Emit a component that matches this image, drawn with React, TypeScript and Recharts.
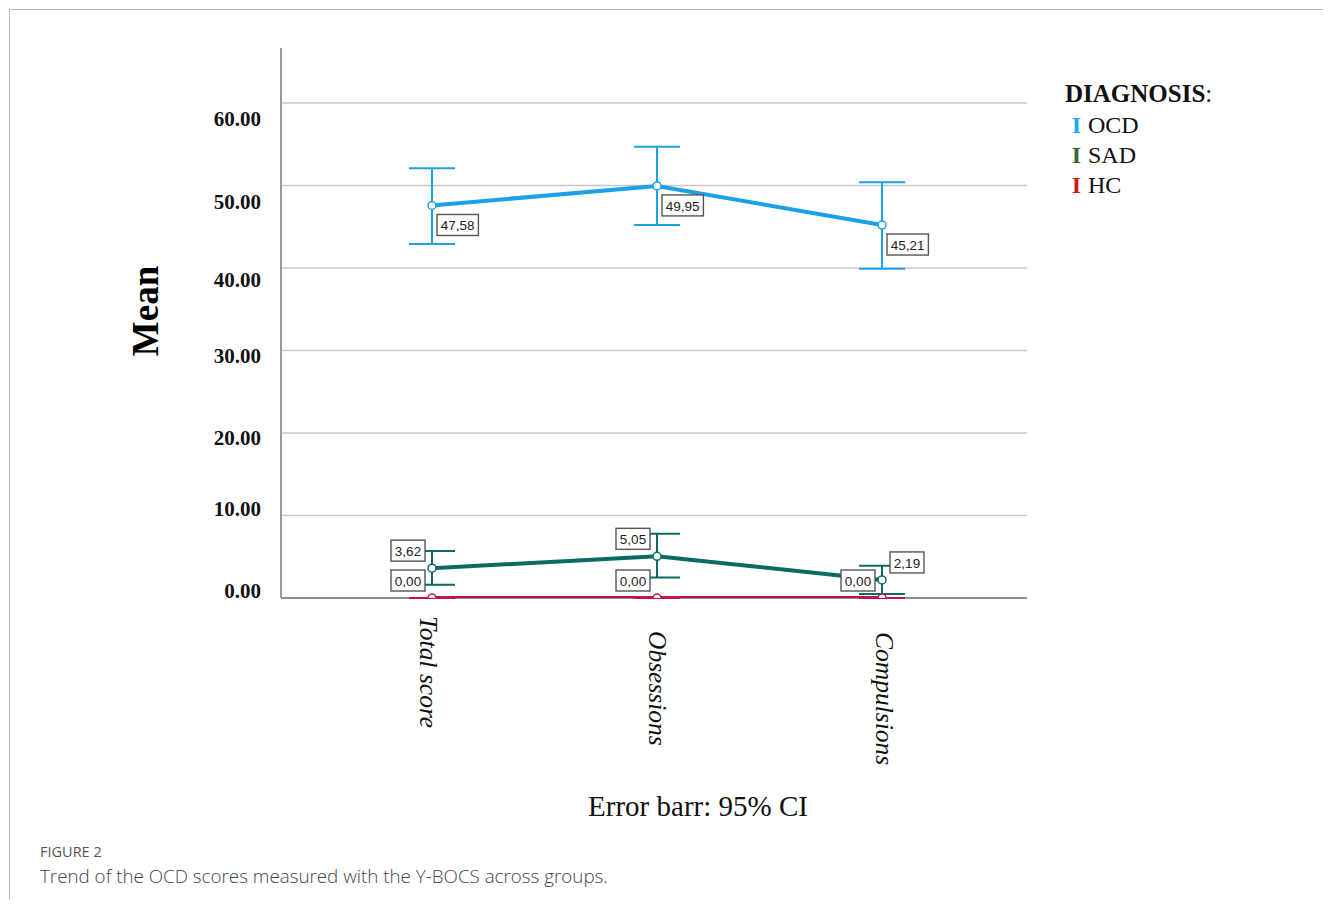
import { CartesianGrid, ErrorBar, LabelList, Line, LineChart, XAxis, YAxis } from "recharts";

const CATEGORIES = ["Total score", "Obsessions", "Compulsions"];

const OCD_MEAN = [47.58, 49.95, 45.21];
const OCD_LOW = [42.9, 45.2, 39.9];
const OCD_HIGH = [52.1, 54.7, 50.4];

const SAD_MEAN = [3.62, 5.05, 2.19];
const SAD_LOW = [1.6, 2.5, 0.5];
const SAD_HIGH = [5.7, 7.8, 3.9];

const HC_MEAN = [0, 0, 0];
const HC_LOW = [0, 0, 0];
const HC_HIGH = [0, 0, 0];

const Y_TICKS = [0, 10, 20, 30, 40, 50, 60];
const Y_MAX = 66.67;

const SERIF = '"Liberation Serif", "Times New Roman", serif';

type Place = "rb" | "la" | "ra";

const SERIES = [
  { key: "ocd", name: "OCD", color: "#1ba1e6", legend: "#1eaaf0", width: 4, mean: OCD_MEAN, low: OCD_LOW, high: OCD_HIGH, place: ["rb", "rb", "rb"] as Place[] },
  { key: "sad", name: "SAD", color: "#0b6a62", legend: "#2f6b30", width: 4, mean: SAD_MEAN, low: SAD_LOW, high: SAD_HIGH, place: ["la", "la", "ra"] as Place[] },
  { key: "hc", name: "HC", color: "#c2124f", legend: "#d3181f", width: 4, mean: HC_MEAN, low: HC_LOW, high: HC_HIGH, place: ["la", "la", "la"] as Place[] },
];

const data = CATEGORIES.map((cat, i) => {
  const row: Record<string, unknown> = { cat };
  SERIES.forEach((s) => {
    row[s.key] = s.mean[i];
    row[s.key + "Err"] = [s.mean[i] - s.low[i], s.high[i] - s.mean[i]];
  });
  return row;
});

const Y_LABEL_NUDGE: Record<number, number> = { 60: 16, 50: 16, 40: 12, 30: 5, 20: 5, 10: -7, 0: -7 };

function YTick(props: any) {
  const { x, y, payload } = props;
  return (
    <text
      x={x}
      y={y + (Y_LABEL_NUDGE[payload.value] ?? 0)}
      textAnchor="end"
      dominantBaseline="central"
      fontFamily={SERIF}
      fontWeight="bold"
      fontSize={21}
      fill="#111"
    >
      {payload.value.toFixed(2)}
    </text>
  );
}

const X_TICK_START = [18, 33, 34];
const X_TICK_SHIFT = [-4, 0, 2];

function XTick(props: any) {
  const { x, y, payload, index } = props;
  return (
    <text
      x={0}
      y={0}
      transform={`translate(${x + X_TICK_SHIFT[index]},${y + X_TICK_START[index]}) rotate(90)`}
      textAnchor="start"
      dominantBaseline="central"
      fontFamily={SERIF}
      fontStyle="italic"
      fontSize={25.5}
      fill="#111"
    >
      {payload.value}
    </text>
  );
}

function boxLabel(place: Place[]) {
  return (props: any) => {
    const { x, y, value, index } = props;
    const txt = Number(value).toFixed(2).replace(".", ",");
    const digits = txt.length - 1;
    const w = digits * 7.4 + 3.8 + 8;
    const h = 21;
    const p = place[index];
    let left = x + 5;
    let top = y + 9;
    if (p === "la") {
      left = x - 7 - w;
      top = y - 7 - h;
    } else if (p === "ra") {
      left = x + 8;
      top = y - 7 - h;
    }
    return (
      <g>
        <rect x={left} y={top} width={w} height={h} fill="#fff" stroke="#555" strokeWidth={1.4} />
        <text
          x={left + w / 2}
          y={top + h / 2 + 1}
          textAnchor="middle"
          dominantBaseline="central"
          fontFamily='"Liberation Sans", Arial, sans-serif'
          fontSize={13.5}
          fill="#222"
        >
          {txt}
        </text>
      </g>
    );
  };
}

// rows of the grid at given values (no line along the top of the plot)
function rowsAt(values: number[]) {
  return (args: any) => {
    if (args.yAxis && typeof args.yAxis.scale === "function") {
      return values.map((t) => args.yAxis.scale(t));
    }
    const off = args.offset;
    return values.map((t) => off.top + off.height * (1 - t / Y_MAX));
  };
}

export default function App() {
  return (
    <div
      style={{
        position: "relative",
        width: 1331,
        height: 908,
        margin: -8,
        overflow: "hidden",
        background: "#fff",
      }}
    >
      <div
        style={{
          position: "absolute",
          left: 9,
          top: 9,
          width: 1400,
          height: 1000,
          border: "1px solid #b8b8b8",
        }}
      />
      <div style={{ position: "absolute", left: 0, top: 0 }}>
        <LineChart
          width={1331}
          height={908}
          data={data}
          margin={{ top: 48, right: 304, bottom: 110, left: 201 }}
        >
          <CartesianGrid
            vertical={false}
            stroke="#c8c8c8"
            strokeWidth={1.6}
            horizontalCoordinatesGenerator={rowsAt(Y_TICKS)}
          />
          {/* x axis baseline drawn behind the series so the HC line stays on top */}
          <CartesianGrid
            vertical={false}
            stroke="#8c8c8c"
            strokeWidth={2}
            horizontalCoordinatesGenerator={rowsAt([0])}
          />
          <XAxis
            dataKey="cat"
            height={200}
            padding={{ left: 151, right: 145 }}
            axisLine={false}
            tickLine={false}
            tickSize={0}
            tickMargin={0}
            tick={<XTick />}
            interval={0}
          />
          <YAxis
            width={80}
            domain={[0, Y_MAX]}
            ticks={Y_TICKS}
            axisLine={{ stroke: "#9a9a9a", strokeWidth: 2 }}
            tickLine={false}
            tickSize={0}
            tickMargin={20}
            tick={<YTick />}
            allowDataOverflow
          />
          {SERIES.map((s) => (
            <Line
              key={s.key}
              dataKey={s.key}
              name={s.name}
              stroke={s.color}
              strokeWidth={s.width}
              dot={{ r: 4, fill: "#fff", stroke: s.color, strokeWidth: 1.5 }}
              activeDot={false}
              isAnimationActive={false}
            >
              <ErrorBar
                dataKey={s.key + "Err"}
                direction="y"
                width={23}
                stroke={s.color}
                strokeWidth={2}
                isAnimationActive={false}
              />
              <LabelList dataKey={s.key} content={boxLabel(s.place)} />
            </Line>
          ))}
        </LineChart>
      </div>

      <div
        style={{
          position: "absolute",
          left: 145,
          top: 311,
          transform: "translate(-50%, -50%) rotate(-90deg)",
          fontFamily: SERIF,
          fontWeight: "bold",
          fontSize: 37,
          color: "#000",
          whiteSpace: "nowrap",
        }}
      >
        Mean
      </div>

      <div
        style={{
          position: "absolute",
          left: 698,
          top: 806,
          transform: "translate(-50%, -50%)",
          fontFamily: SERIF,
          fontSize: 29,
          color: "#111",
          whiteSpace: "nowrap",
        }}
      >
        Error barr: 95% CI
      </div>

      <div style={{ position: "absolute", left: 1065, top: 78, fontFamily: SERIF, color: "#111" }}>
        <div style={{ fontSize: 25, fontWeight: "bold", lineHeight: "32px" }}>
          DIAGNOSIS<span style={{ fontWeight: "normal" }}>:</span>
        </div>
        {SERIES.map((s) => (
          <div key={s.key} style={{ fontSize: 24, lineHeight: "30px", whiteSpace: "nowrap" }}>
            <span style={{ color: s.legend, fontWeight: "bold", display: "inline-block", width: 23, textAlign: "center" }}>I</span>
            {s.name}
          </div>
        ))}
      </div>

      <div
        style={{
          position: "absolute",
          left: 40,
          top: 842,
          fontFamily: '"Open Sans", "Noto Sans", sans-serif',
          fontSize: 14.5,
          color: "#555",
          whiteSpace: "nowrap",
        }}
      >
        FIGURE 2
      </div>
      <div
        style={{
          position: "absolute",
          left: 40,
          top: 863,
          fontFamily: '"Open Sans", "Noto Sans", sans-serif',
          fontSize: 18.8,
          fontWeight: 300,
          color: "#444",
          whiteSpace: "nowrap",
        }}
      >
        Trend of the OCD scores measured with the Y-BOCS across groups.
      </div>
    </div>
  );
}
